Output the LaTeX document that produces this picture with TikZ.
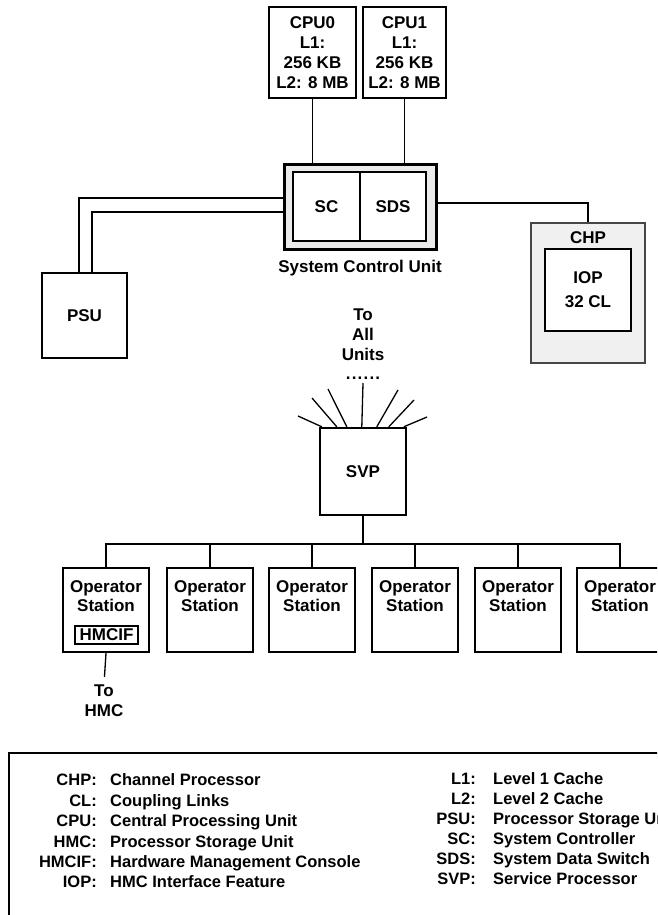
\documentclass[tikz,border=0pt]{standalone}
\usepackage{fontspec}
\setmainfont{Liberation Sans}
\usetikzlibrary{calc}
\newcommand\dfont{\fontsize{17}{20}\selectfont\bfseries}
\newcommand\lfont{\fontsize{16.5}{20}\selectfont\bfseries}
\tikzset{
  box/.style={draw, line width=2.4pt, inner sep=0pt, font=\dfont, align=center},
  thinbox/.style={draw, line width=1.4pt, inner sep=0pt, font=\dfont, align=center},
  conn/.style={line width=1.3pt},
  dline/.style={line width=1.1pt},
  lbl/.style={font=\dfont, align=center, inner sep=1pt},
  legab/.style={font=\lfont, anchor=base east, inner sep=0pt},
  legtx/.style={font=\lfont, anchor=base west, inner sep=0pt},
}
\begin{document}
\begin{tikzpicture}[x=1pt,y=-1pt]
\clip (0,0) rectangle (657,915);
\fill[white] (0,0) rectangle (657,915);

% CPUs
\node[box, minimum width=87pt, minimum height=91pt] (cpu0) at (312.5,52.5) {CPU0\\L1:\\256 KB\\L2: 8 MB};
\node[box, minimum width=83pt, minimum height=91pt] (cpu1) at (404.5,52.5) {CPU1\\L1:\\256 KB\\L2: 8 MB};

% System control unit
\node[box, line width=3pt, fill=gray!16, minimum width=152pt, minimum height=85pt] (scu) at (360,206.5) {};
\node[thinbox, fill=white, minimum width=67pt, minimum height=69pt] (sc) at (326.5,206.5) {SC};
\node[thinbox, fill=white, minimum width=66pt, minimum height=69pt] (sds) at (393,206.5) {SDS};
\node[lbl] (scul) at (360,268) {System Control Unit};

% PSU
\node[box, minimum width=85pt, minimum height=85pt] (psu) at (84.5,315.5) {PSU};

% CHP / IOP
\node[draw=gray!55!black, line width=1.2pt, fill=gray!12, minimum width=114pt, minimum height=140pt, inner sep=0pt] (chp) at (588,293) {};
\node[lbl] (chpl) at (588,238) {CHP};
\node[box, fill=white, minimum width=86pt, minimum height=82pt] (iop) at (588,290) {IOP\\[4pt]32 CL};

% connectors top part
\draw[conn] (cpu0.south) -- (cpu0.south |- scu.north);
\draw[conn] (cpu1.south) -- (cpu1.south |- scu.north);
\draw[dline] ([yshift=8.5pt]scu.west) -| ([xshift=-5.5pt]psu.north);
\draw[dline] ([yshift=-5.5pt]scu.west) -| ([xshift=7.5pt]psu.north);
\draw[conn] ([yshift=3.5pt]scu.east) -| (chp.north);

% SVP
\node[lbl] (toall) at (363,335) {To\\All\\Units};
\node[font=\dfont, inner sep=0pt, text height=3pt, text depth=0pt, anchor=base] (dots) at (363,379) {.\hspace{1.2pt}.\hspace{1.2pt}.\hspace{1.2pt}.\hspace{1.2pt}.\hspace{1.2pt}.};
\node[box, minimum width=86pt, minimum height=87pt] (svp) at (363,471.5) {SVP};

\coordinate (r1) at (298,416);
\coordinate (r2) at (312,398);
\coordinate (r3) at (328,389);
\coordinate (r4) at (363,383);
\coordinate (r5) at (398,390);
\coordinate (r6) at (414,400);
\coordinate (r7) at (427,417);
\foreach \dx/\e in {3/r1, 18/r2, 28/r3, 43/r4, 58/r5, 70/r6, 85/r7}
  \draw[conn] ($(svp.north west)+(\dx,0)$) -- (\e);

% operator stations
\coordinate (bus) at (363,544);
\draw[conn] (svp.south) -- (bus);
\foreach \x [count=\i] in {106,210,312,415,518,620} {
  \node[box, minimum width=86pt, minimum height=84pt] (op\i) at (\x,610) {};
  \node[lbl] (opt\i) at (\x,596.5) {Operator\\[-1pt]Station};
  \draw[conn] (bus) -| (op\i.north);
}
\node[thinbox, line width=1.1pt, minimum width=63pt, minimum height=18pt] (hmcif) at (106.5,635) {HMCIF};
\node[lbl] (tohmc) at (104,701) {To\\HMC};
\draw[conn, shorten >=7pt] (op1.south) -- (tohmc.north);

% legend
\coordinate (lgA) at (660,753);
\coordinate (lgB) at (9,753);
\coordinate (lgC) at (9,918);
\draw[line width=2pt] (lgA) -- (lgB) -- (lgC);

\foreach \ab/\tx [count=\i from 0] in {CHP:/Channel Processor, CL:/Coupling Links, CPU:/Central Processing Unit, HMC:/Processor Storage Unit, HMCIF:/Hardware Management Console, IOP:/HMC Interface Feature} {
  \node[legab] (la\i) at (97,{785.9+20.4*\i}) {\ab};
  \node[legtx] (lt\i) at (110,{785.9+20.4*\i}) {\tx};
}
\foreach \ab/\tx [count=\i from 0] in {L1:/Level 1 Cache, L2:/Level 2 Cache, PSU:/Processor Storage Unit, SC:/System Controller, SDS:/System Data Switch, SVP:/Service Processor} {
  \node[legab] (ra\i) at (476,{784.9+20*\i}) {\ab};
  \node[legtx] (rt\i) at (493,{784.9+20*\i}) {\tx};
}
\end{tikzpicture}
\end{document}
